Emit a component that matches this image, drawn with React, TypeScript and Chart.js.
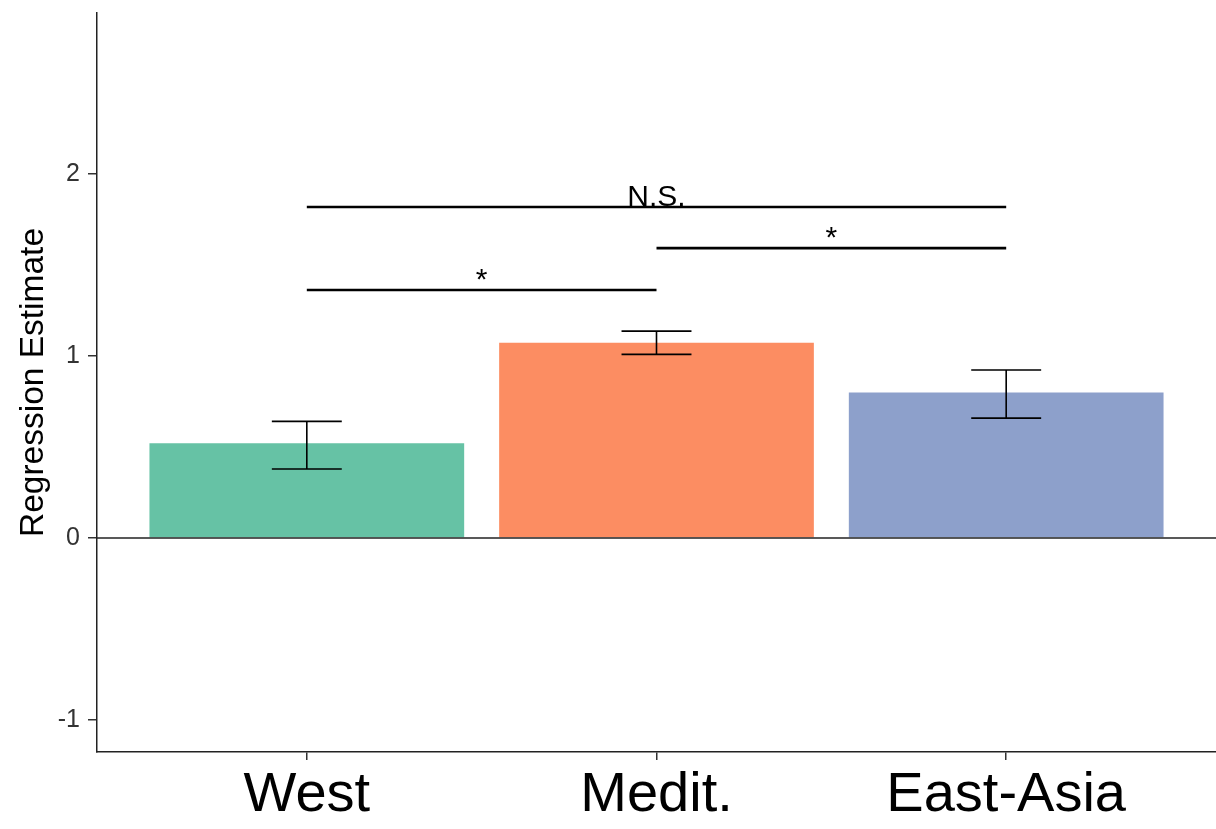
import React, { useEffect, useRef } from 'react';
import { Chart, registerables } from 'chart.js';

Chart.register(...registerables);

const FONT = "'Liberation Sans', Arial, Helvetica, sans-serif";

// Group estimates with their confidence intervals
const categories = ['West', 'Medit.', 'East-Asia'];
const estimates = [0.52, 1.073, 0.8];
const ciLower = [0.379, 1.009, 0.659];
const ciUpper = [0.641, 1.137, 0.923];
const barColors = ['#66C2A5', '#FC8D62', '#8DA0CB'];

// Value axis
const yTicks = [-1, 0, 1, 2];
const yMin = -1.176;
const yMax = 2.885;

// Pairwise significance brackets
const bracketFrom = [0, 1, 0];
const bracketTo = [1, 2, 2];
const bracketHeights = [1.363, 1.593, 1.819];
const bracketLabels = ['*', '*', 'N.S.'];

const overlayPlugin = {
  id: 'estimateOverlay',
  afterDatasetsDraw(chart: any) {
    const { ctx, chartArea } = chart;
    const x = chart.scales.x;
    const y = chart.scales.y;
    ctx.save();

    // horizontal reference line at zero
    const y0 = y.getPixelForValue(0);
    ctx.strokeStyle = '#222';
    ctx.lineWidth = 1.5;
    ctx.beginPath();
    ctx.moveTo(chartArea.left, y0);
    ctx.lineTo(chartArea.right, y0);
    ctx.stroke();

    // error bars
    ctx.strokeStyle = '#000';
    ctx.lineWidth = 1.6;
    categories.forEach((_, i) => {
      const cx = x.getPixelForValue(i);
      const half = x.getPixelForValue(i + 0.1) - cx;
      const top = y.getPixelForValue(ciUpper[i]);
      const bot = y.getPixelForValue(ciLower[i]);
      ctx.beginPath();
      ctx.moveTo(cx - half, top);
      ctx.lineTo(cx + half, top);
      ctx.moveTo(cx, top);
      ctx.lineTo(cx, bot);
      ctx.moveTo(cx - half, bot);
      ctx.lineTo(cx + half, bot);
      ctx.stroke();
    });

    // significance brackets with labels
    ctx.lineWidth = 2.6;
    ctx.font = `30px ${FONT}`;
    ctx.fillStyle = '#000';
    ctx.textAlign = 'center';
    ctx.textBaseline = 'alphabetic';
    bracketLabels.forEach((label, k) => {
      const x1 = x.getPixelForValue(bracketFrom[k]);
      const x2 = x.getPixelForValue(bracketTo[k]);
      const by = y.getPixelForValue(bracketHeights[k]);
      ctx.beginPath();
      ctx.moveTo(x1, by);
      ctx.lineTo(x2, by);
      ctx.stroke();
      ctx.fillText(label, (x1 + x2) / 2, by - 1);
    });

    ctx.restore();
  },
};

export default function App() {
  const canvasRef = useRef<HTMLCanvasElement | null>(null);

  useEffect(() => {
    const canvas = canvasRef.current;
    if (!canvas) return;
    const chart = new Chart(canvas, {
      type: 'bar',
      data: {
        datasets: [
          {
            data: categories.map((_, i) => ({ x: i, y: estimates[i] })),
            backgroundColor: barColors,
            borderWidth: 0,
            barPercentage: 0.9,
            categoryPercentage: 1,
          },
        ],
      },
      options: {
        responsive: false,
        animation: false,
        layout: { padding: { top: 13, right: 0, bottom: 0, left: 0 } },
        plugins: {
          legend: { display: false },
          tooltip: { enabled: false },
        },
        scales: {
          x: {
            type: 'linear',
            offset: false,
            min: -0.6,
            max: 2.6,
            afterBuildTicks: (s: any) => {
              s.ticks = categories.map((_, i) => ({ value: i }));
            },
            afterFit: (s: any) => {
              s.height = 77;
              s.paddingLeft = 0;
              s.paddingRight = 0;
            },
            grid: {
              display: true,
              offset: false,
              drawOnChartArea: false,
              drawTicks: true,
              tickLength: 8,
              color: '#333',
              lineWidth: 1.5,
            },
            border: { display: true, color: '#222', width: 1.5 },
            ticks: {
              callback: (_v: any, i: number) => categories[i],
              font: { family: FONT, size: 56, lineHeight: 1 },
              color: '#000',
              padding: 8,
              maxRotation: 0,
              autoSkip: false,
            },
          },
          y: {
            type: 'linear',
            min: yMin,
            max: yMax,
            afterBuildTicks: (s: any) => {
              s.ticks = yTicks.map((v) => ({ value: v }));
            },
            afterFit: (s: any) => {
              s.width = 97;
              s.paddingTop = 0;
              s.paddingBottom = 0;
            },
            grid: {
              display: true,
              drawOnChartArea: false,
              drawTicks: true,
              tickLength: 9,
              color: '#333',
              lineWidth: 1.5,
            },
            border: { display: true, color: '#222', width: 1.5 },
            ticks: {
              callback: (v: any) => String(v),
              font: { family: FONT, size: 25 },
              color: '#333',
              padding: 8,
            },
            title: {
              display: true,
              text: 'Regression Estimate',
              font: { family: FONT, size: 33.5 },
              color: '#000',
              padding: { top: 14, bottom: 0 },
            },
          },
        },
      },
      plugins: [overlayPlugin],
    } as any);
    return () => chart.destroy();
  }, []);

  return (
    <div style={{ position: 'absolute', left: 0, top: 0, width: 1216, height: 829 }}>
      <canvas ref={canvasRef} width={1216} height={829} style={{ display: 'block' }} />
    </div>
  );
}
